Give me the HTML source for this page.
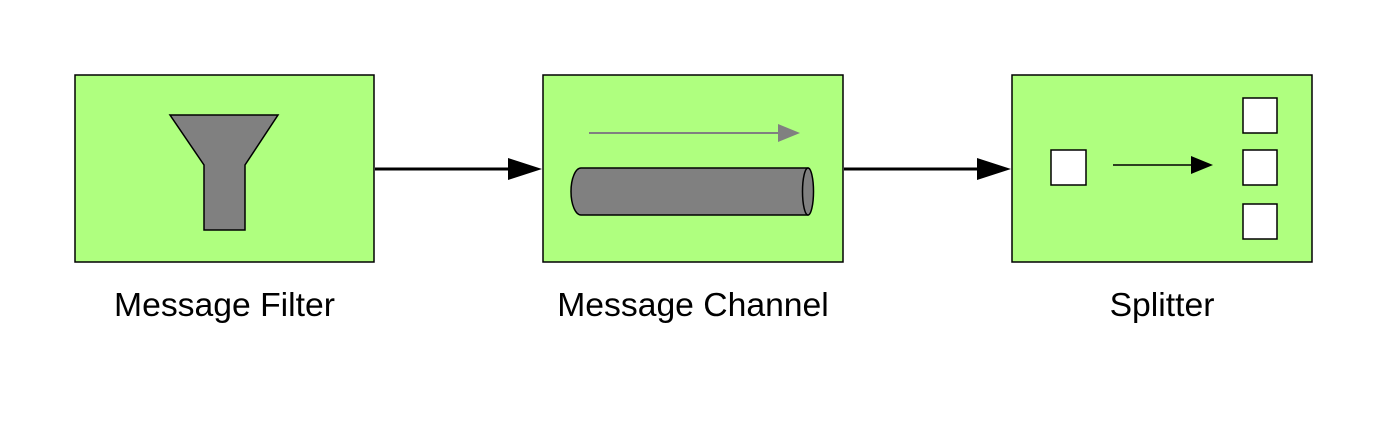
<!DOCTYPE html>
<html><head><style>body{margin:0;background:#fff}</style></head><body>
<svg width="1388" height="422" xmlns="http://www.w3.org/2000/svg" style="display:block">
<rect width="1388" height="422" fill="#fff"/>
<g fill="#afff7f" stroke="#000" stroke-width="1.5">
<rect x="75" y="75" width="299" height="187"/>
<rect x="543" y="75" width="300" height="187"/>
<rect x="1012" y="75" width="300" height="187"/>
</g>
<polygon points="170,115 278,115 245,165 245,230 204,230 204,165" fill="#808080" stroke="#000" stroke-width="1.5"/>
<line x1="589" y1="133" x2="780" y2="133" stroke="#808080" stroke-width="2"/>
<polygon points="778,124 800,133 778,142" fill="#808080"/>
<path d="M581,168 L808,168 A5,23.5 0 0 1 808,215 L581,215 A10,23.5 0 0 1 581,168 Z" fill="#808080" stroke="#000" stroke-width="1.5"/>
<ellipse cx="808" cy="191.5" rx="5.5" ry="23.5" fill="#808080" stroke="#000" stroke-width="1.5"/>
<line x1="375" y1="169" x2="512" y2="169" stroke="#000" stroke-width="3"/>
<polygon points="508,158 542,169 508,180" fill="#000"/>
<line x1="844" y1="169" x2="980" y2="169" stroke="#000" stroke-width="3"/>
<polygon points="977,158 1011,169 977,180" fill="#000"/>
<g fill="#fff" stroke="#000" stroke-width="1.5">
<rect x="1051" y="150" width="35" height="35"/>
<rect x="1243" y="98" width="34" height="35"/>
<rect x="1243" y="150" width="34" height="35"/>
<rect x="1243" y="204" width="34" height="35"/>
</g>
<line x1="1113" y1="165" x2="1195" y2="165" stroke="#000" stroke-width="1.5"/>
<polygon points="1191,156 1213,165 1191,174" fill="#000"/>
<g font-family="Liberation Sans, sans-serif" font-size="33.7" text-anchor="middle" fill="#000">
<text x="224.5" y="316">Message Filter</text>
<text x="693" y="316">Message Channel</text>
<text x="1162" y="316">Splitter</text>
</g>
</svg>
</body></html>
